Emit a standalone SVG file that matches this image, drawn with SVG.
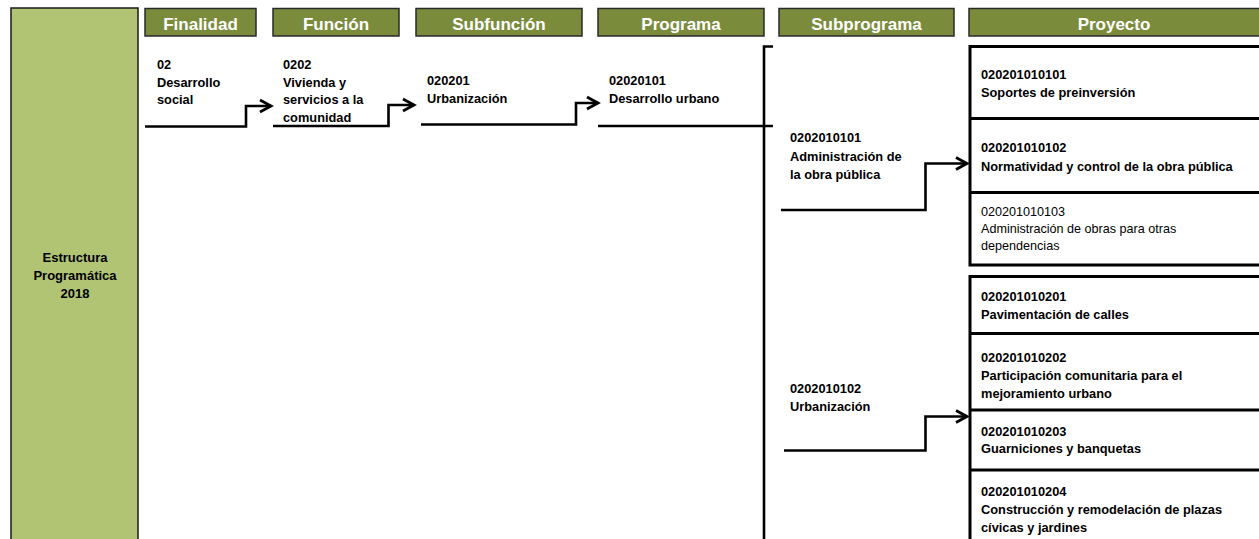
<svg xmlns="http://www.w3.org/2000/svg" width="1259" height="539" viewBox="0 0 1259 539">
<defs>
<style>
.hdr{fill:#7a8c3c;stroke:#2a2a2a;stroke-width:1.5}
.ht{font-family:"Liberation Sans",Arial,sans-serif;font-size:17px;font-weight:bold;fill:#fff;text-anchor:middle}
.t{font-family:"Liberation Sans",Arial,sans-serif;font-size:12.8px;font-weight:bold;fill:#000}
.n{font-family:"Liberation Sans",Arial,sans-serif;font-size:12.6px;fill:#000}
.c{fill:none;stroke:#000;stroke-width:2.6}
.box{fill:#fff;stroke:#000;stroke-width:3}
</style>
<marker id="arr" markerUnits="userSpaceOnUse" markerWidth="16" markerHeight="16" refX="12" refY="7" orient="auto" viewBox="0 0 16 14">
<path d="M1,1 L12,7 L1,13" fill="none" stroke="#000" stroke-width="2.8"/>
</marker>
</defs>
<rect width="1259" height="539" fill="#fff"/>

<g id="estructura">
<rect x="11" y="8" width="127" height="540" fill="#b1c473" stroke="#1a1a1a" stroke-width="1.5"/>
<text class="t" style="font-size:13px" text-anchor="middle" x="75" y="262">Estructura</text>
<text class="t" style="font-size:13px" text-anchor="middle" x="75" y="280">Programática</text>
<text class="t" style="font-size:13px" text-anchor="middle" x="75" y="297.5">2018</text>
</g>

<g id="h-finalidad"><rect class="hdr" x="145" y="8.5" width="111" height="27.5"/><text class="ht" x="200.5" y="30">Finalidad</text></g>
<g id="h-funcion"><rect class="hdr" x="273" y="8.5" width="126" height="27.5"/><text class="ht" x="336" y="30">Función</text></g>
<g id="h-subfuncion"><rect class="hdr" x="416" y="8.5" width="166" height="27.5"/><text class="ht" x="499" y="30">Subfunción</text></g>
<g id="h-programa"><rect class="hdr" x="598" y="8.5" width="166" height="27.5"/><text class="ht" x="681" y="30">Programa</text></g>
<g id="h-subprograma"><rect class="hdr" x="779" y="8.5" width="175" height="27.5"/><text class="ht" x="866.5" y="30">Subprograma</text></g>
<g id="h-proyecto"><rect class="hdr" x="969" y="8.5" width="300" height="27.5"/><text class="ht" x="1114" y="30">Proyecto</text></g>

<g id="finalidad">
<text class="t" x="157" y="69">02</text>
<text class="t" x="157" y="86.5">Desarrollo</text>
<text class="t" x="157" y="104">social</text>
</g>
<g id="funcion">
<text class="t" x="283" y="69">0202</text>
<text class="t" x="283" y="86.5">Vivienda y</text>
<text class="t" x="283" y="104">servicios a la</text>
<text class="t" x="283" y="121.5">comunidad</text>
</g>
<g id="subfuncion">
<text class="t" x="427" y="85">020201</text>
<text class="t" x="427" y="103">Urbanización</text>
</g>
<g id="programa">
<text class="t" x="609" y="85">02020101</text>
<text class="t" x="609" y="103">Desarrollo urbano</text>
</g>
<g id="subprograma-1">
<text class="t" x="790" y="142">0202010101</text>
<text class="t" x="790" y="160.5">Administración de</text>
<text class="t" x="790" y="178.5">la obra pública</text>
</g>
<g id="subprograma-2">
<text class="t" x="790" y="393">0202010102</text>
<text class="t" x="790" y="411">Urbanización</text>
</g>

<g id="proyectos-1">
<rect class="box" x="970" y="46.5" width="300" height="218.5"/>
<line x1="970" y1="118.5" x2="1270" y2="118.5" stroke="#000" stroke-width="3"/>
<line x1="970" y1="192.5" x2="1270" y2="192.5" stroke="#000" stroke-width="3"/>
<text class="t" x="981" y="79">020201010101</text>
<text class="t" x="981" y="96.5">Soportes de preinversión</text>
<text class="t" x="981" y="152">020201010102</text>
<text class="t" x="981" y="170.5">Normatividad y control de la obra pública</text>
<text class="n" x="981" y="216">020201010103</text>
<text class="n" x="981" y="233">Administración de obras para otras</text>
<text class="n" x="981" y="250">dependencias</text>
</g>
<g id="proyectos-2">
<rect class="box" x="970" y="276.5" width="300" height="300"/>
<line x1="970" y1="333.5" x2="1270" y2="333.5" stroke="#000" stroke-width="3"/>
<line x1="970" y1="410" x2="1270" y2="410" stroke="#000" stroke-width="3"/>
<line x1="970" y1="470" x2="1270" y2="470" stroke="#000" stroke-width="3"/>
<text class="t" x="981" y="300.5">020201010201</text>
<text class="t" x="981" y="319">Pavimentación de calles</text>
<text class="t" x="981" y="361.5">020201010202</text>
<text class="t" x="981" y="380">Participación comunitaria para el</text>
<text class="t" x="981" y="398">mejoramiento urbano</text>
<text class="t" x="981" y="435.5">020201010203</text>
<text class="t" x="981" y="453">Guarniciones y banquetas</text>
<text class="t" x="981" y="496">020201010204</text>
<text class="t" x="981" y="513.5">Construcción y remodelación de plazas</text>
<text class="t" x="981" y="531.5">cívicas y jardines</text>
</g>

<g id="connectors">
<path class="c" d="M145,126.5 H246 V106 H271" marker-end="url(#arr)"/>
<path class="c" d="M273,126 H388.5 V105 H414" marker-end="url(#arr)"/>
<path class="c" d="M421,124.5 H576 V103 H598" marker-end="url(#arr)"/>
<path class="c" d="M598,126 H773"/>
<path class="c" d="M773,46.5 H764 V540"/>
<path class="c" d="M781,210 H925.5 V163.5 H967" marker-end="url(#arr)"/>
<path class="c" d="M784,450.5 H925.5 V416.5 H967" marker-end="url(#arr)"/>
</g>
</svg>
